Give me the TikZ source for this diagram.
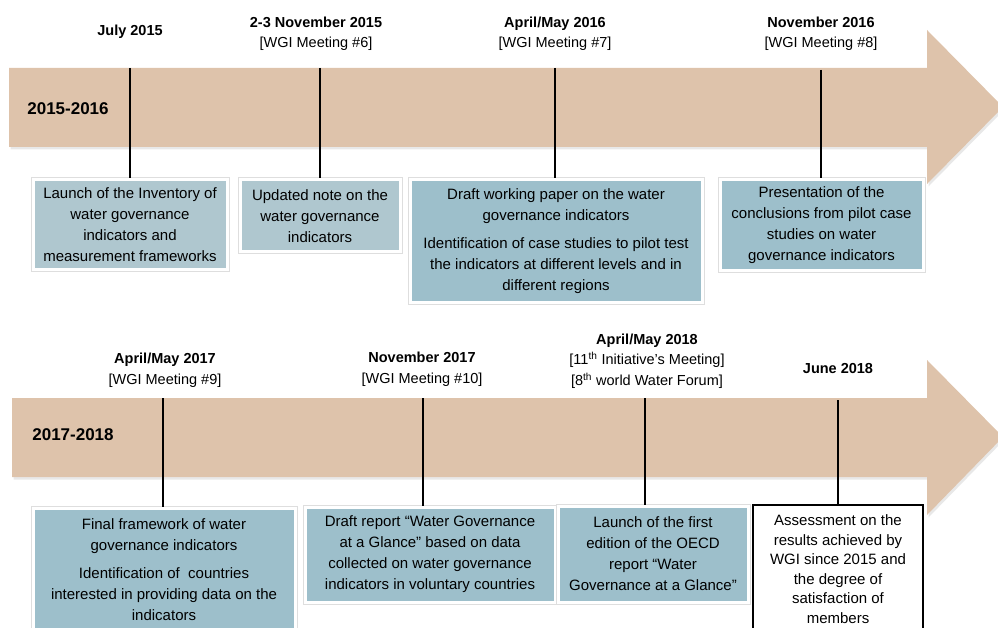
\documentclass[tikz,border=0pt]{standalone}
\usepackage{fontspec}
\setmainfont{Liberation Sans}
\usetikzlibrary{shadows}
\definecolor{arrowtan}{RGB}{222,195,171}
\definecolor{boxgrey}{RGB}{175,199,207}
\definecolor{boxblue}{RGB}{157,191,203}
\tikzset{
  bigarrow/.style={fill=arrowtan, draw=none, drop shadow={opacity=0.18, shadow xshift=1.5pt, shadow yshift=-2.5pt}},
  datelbl/.style={align=center, inner sep=0pt, font=\fontsize{14.5}{20.5}\selectfont},
  yearlbl/.style={inner sep=0pt, font=\fontsize{17}{20}\selectfont\bfseries},
  evbox/.style={preaction={draw=black!13, line width=5pt}, draw=white, line width=3pt,
     align=center, inner sep=0pt, font=\fontsize{15}{21}\selectfont},
  tick/.style={draw=black, line width=2.4pt},
  whitebox/.style={draw=black, line width=2pt, fill=white, align=center, inner sep=0pt,
     font=\fontsize{15}{19.5}\selectfont}
}
\begin{document}
\begin{tikzpicture}[x=1pt,y=-1pt]
\useasboundingbox (0,0) rectangle (998,628);
\clip (0,0) rectangle (998,628);

% ---------- top arrow ----------
\path[bigarrow] (9,68) -- (927,68) -- (927,30) -- (1003,107) -- (927,184) -- (927,147) -- (9,147) -- cycle;
\node[yearlbl] (y1) at (68,109) {2015-2016};

\node[datelbl] (d1) at (130,32) {\textbf{July 2015}};
\node[datelbl] (d2) at (316,34) {\textbf{2-3 November 2015}\\{}[WGI Meeting \#6]};
\node[datelbl] (d3) at (555,34) {\textbf{April/May 2016}\\{}[WGI Meeting \#7]};
\node[datelbl] (d4) at (821,34) {\textbf{November 2016}\\{}[WGI Meeting \#8]};

\coordinate (t1) at (130,68);
\coordinate (t2) at (320,68);
\coordinate (t3) at (555,68);
\coordinate (t4) at (821,70);

\node[evbox, fill=boxgrey, minimum width=194pt, minimum height=90pt] (b1) at (130,225)
  {Launch of the Inventory of\\water governance\\indicators and\\measurement frameworks};
\node[evbox, fill=boxgrey, minimum width=160pt, minimum height=72pt] (b2) at (320,216)
  {Updated note on the\\water governance\\indicators};
\node[evbox, fill=boxblue, minimum width=292pt, minimum height=122pt] (b3) at (556,241)
  {Draft working paper on the water\\governance indicators\\[7pt]Identification of case studies to pilot test\\the indicators at different levels and in\\different regions};
\node[evbox, fill=boxblue, minimum width=203pt, minimum height=91pt] (b4) at (821.5,225.5)
  {Presentation of the\\conclusions from pilot case\\studies on water\\governance indicators};

\draw[tick] (t1) -- (t1 |- b1.north);
\draw[tick] (t2) -- (t2 |- b2.north);
\draw[tick] (t3) -- (t3 |- b3.north);
\draw[tick] (t4) -- (t4 |- b4.north);

% ---------- bottom arrow ----------
\path[bigarrow] (12,398) -- (927,398) -- (927,360) -- (1003,437) -- (927,515) -- (927,477) -- (12,477) -- cycle;
\node[yearlbl] (y2) at (73,435) {2017-2018};

\node[datelbl] (d5) at (165,370) {\textbf{April/May 2017}\\{}[WGI Meeting \#9]};
\node[datelbl] (d6) at (422,369) {\textbf{November 2017}\\{}[WGI Meeting \#10]};
\node[datelbl] (d7) at (647,361) {\textbf{April/May 2018}\\{}[11\textsuperscript{th} Initiative’s Meeting]\\{}[8\textsuperscript{th} world Water Forum]};
\node[datelbl] (d8) at (838,369) {\textbf{June 2018}};

\coordinate (t5) at (163,398);
\coordinate (t6) at (423,398);
\coordinate (t7) at (645,398);
\coordinate (t8) at (838,400);

\node[evbox, fill=boxblue, minimum width=262pt, minimum height=124pt] (b5) at (164,570)
  {Final framework of water\\governance indicators\\[7pt]Identification of \ countries\\interested in providing data on the\\indicators};
\node[evbox, fill=boxblue, minimum width=250pt, minimum height=95pt] (b6) at (430,554.5)
  {Draft report “Water Governance\\at a Glance” based on data\\collected on water governance\\indicators in voluntary countries};
\node[evbox, fill=boxblue, minimum width=190pt, minimum height=96pt] (b7) at (653,554)
  {Launch of the first\\edition of the OECD\\report “Water\\Governance at a Glance”};
\node[whitebox, minimum width=170pt, minimum height=128pt] (b8) at (838,569)
  {Assessment on the\\results achieved by\\WGI since 2015 and\\the degree of\\satisfaction of\\members};

\draw[tick] (t5) -- (t5 |- b5.north);
\draw[tick] (t6) -- (t6 |- b6.north);
\draw[tick] (t7) -- (t7 |- b7.north);
\draw[tick] (t8) -- (t8 |- b8.north);
\end{tikzpicture}
\end{document}
